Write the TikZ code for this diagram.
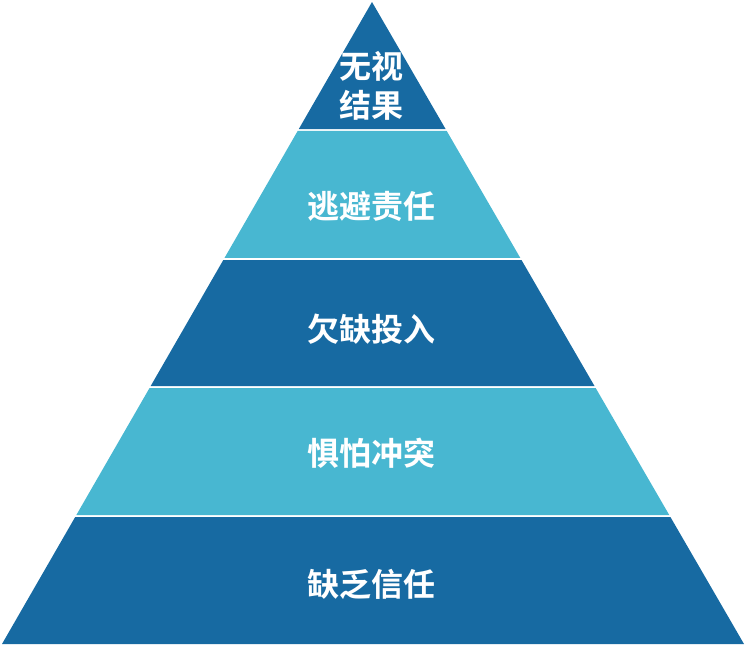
\documentclass[tikz,border=0pt]{standalone}
\usepackage{fontspec}
\newfontfamily\cjk{Noto Sans CJK SC Bold}
\usetikzlibrary{calc}
\definecolor{darkblue}{HTML}{176AA2}
\definecolor{lightblue}{HTML}{48B7D1}
\tikzset{
  layertext/.style={text=white, font=\cjk\fontsize{32}{39}\selectfont, inner sep=0pt, align=center},
}
\begin{document}
\begin{tikzpicture}[x=1pt,y=-1pt]
\useasboundingbox (0,0) rectangle (745,646);
\coordinate (A) at (372,2);
\coordinate (BL) at (2,644);
\coordinate (BR) at (744,644);
\def\Lp#1{($(A)!#1!(BL)$)}
\def\Rp#1{($(A)!#1!(BR)$)}
% layer 1 (2-129)
\fill[darkblue] (A) -- \Lp{0.19782} -- \Rp{0.19782} -- cycle;
% layer 2 (131-258)
\fill[lightblue] \Lp{0.20093} -- \Rp{0.20093} -- \Rp{0.39875} -- \Lp{0.39875} -- cycle;
% layer 3 (260-386)
\fill[darkblue] \Lp{0.40187} -- \Rp{0.40187} -- \Rp{0.59813} -- \Lp{0.59813} -- cycle;
% layer 4 (388-515)
\fill[lightblue] \Lp{0.60125} -- \Rp{0.60125} -- \Rp{0.79907} -- \Lp{0.79907} -- cycle;
% layer 5 (517-644)
\fill[darkblue] \Lp{0.80218} -- \Rp{0.80218} -- (BR) -- (BL) -- cycle;
\node[layertext] (t1) at (371,86) {无视\\结果};
\node[layertext] (t2) at (371,206) {逃避责任};
\node[layertext] (t3) at (371,329) {欠缺投入};
\node[layertext] (t4) at (371,453) {惧怕冲突};
\node[layertext] (t5) at (371,584) {缺乏信任};
\end{tikzpicture}
\end{document}
